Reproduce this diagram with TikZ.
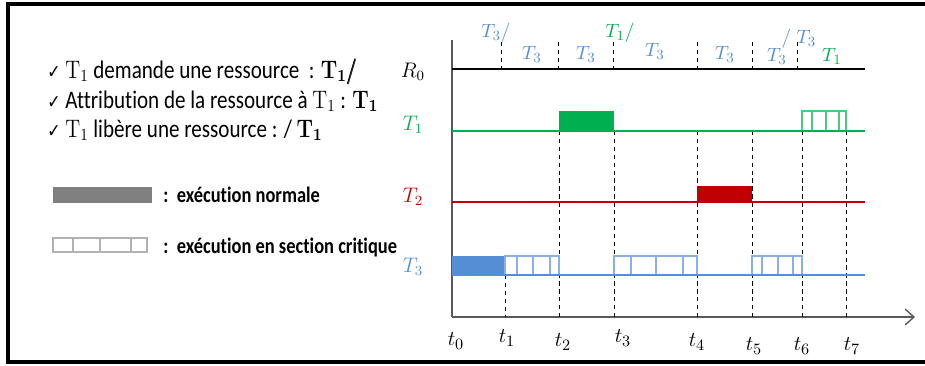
\documentclass[tikz,border=0pt]{standalone}
\usepackage{amsmath,amssymb}
\usepackage[no-math]{fontspec}
\setmainfont{Carlito}[Ligatures=NoCommon]
\newfontfamily\symfont{DejaVu Sans}
\usepackage{graphicx}
\usetikzlibrary{arrows.meta}

\definecolor{tgreen}{HTML}{00B050}
\definecolor{tred}{HTML}{C00000}
\definecolor{tblue}{HTML}{558ED5}
\definecolor{axisgray}{HTML}{595959}
\newcommand{\tallbox}[1]{\scalebox{1}[1.2]{#1}}

\begin{document}
\begin{tikzpicture}[x=0.02cm,y=-0.02cm,
  rowline/.style={line width=1.7pt,draw=#1},
  crit/.style={draw=#1,fill=white,line width=0.6pt},
  guide/.style={dash pattern=on 2.5pt off 2pt,line width=0.5pt},
  rowlbl/.style={font=\fontsize{12}{14}\selectfont,text=#1,inner sep=0pt},
  toplbl/.style={font=\fontsize{11}{13}\selectfont,text=#1,inner sep=0pt},
  tlbl/.style={font=\fontsize{12.5}{14}\selectfont,inner sep=0pt},
  legtext/.style={anchor=base west,inner sep=0pt,font=\fontsize{12}{14}\selectfont},
  keytext/.style={anchor=west,inner sep=0pt,font=\bfseries\fontsize{10.5}{12}\selectfont}
]
\useasboundingbox (0,0) rectangle (925,365);

% cadre
\draw[line width=2pt] (925,4) -- (8,4) -- (8,362) -- (925,362);

% legende
\node[legtext] (leg1) at (47,78)  {\tallbox{{\symfont\small ✓} $\mathrm{T}_1$ demande une ressource\ \ : $\mathbf{T_1}\pmb{/}$}};
\node[legtext] (leg2) at (47,108) {\tallbox{{\symfont\small ✓} Attribution de la ressource à $\mathrm{T}_1$ : $\mathbf{T_1}$}};
\node[legtext] (leg3) at (47,137) {\tallbox{{\symfont\small ✓} $\mathrm{T}_1$ libère une ressource : / $\mathbf{T_1}$}};

\fill[gray] (53,187) rectangle (152,203);
\node[keytext] (knorm) at (163,195) {\tallbox{:\ \ exécution normale}};
\draw[gray!60,line width=0.6pt] (53,238) rectangle (147,252);
\foreach \x in {73,100,131} \draw[gray!60,line width=0.6pt] (\x,238) -- (\x,252);
\node[keytext] (kcrit) at (163,247) {\tallbox{:\ \ exécution en section critique}};

% axes
\coordinate (o) at (452,317);
\draw[axisgray,line width=0.8pt] (452,40) -- (o);
\draw[axisgray,line width=0.8pt,-{Straight Barb[length=5pt,width=9pt]}] (o) -- (915,317);

% lignes pointillees
\foreach \x in {501,558,613,697,752,797} \draw[guide] (\x,42) -- (\x,69);
\draw[guide] (505,275) -- (505,317);
\foreach \x in {559,614,697,752,802,846} \draw[guide] (\x,131) -- (\x,317);

% T1
\fill[tgreen] (559,111) rectangle (614,131);
\draw[crit=tgreen!70] (802,111) rectangle (846,131);
\foreach \x in {812,826,839} \draw[tgreen!70,line width=0.6pt] (\x,111) -- (\x,131);
% T2
\fill[tred] (697,186) rectangle (752,202);
% T3
\fill[tblue] (452,256) rectangle (505,275);
\draw[crit=tblue!70] (505,256) rectangle (559,275);
\foreach \x in {517,533,550} \draw[tblue!70,line width=0.6pt] (\x,256) -- (\x,275);
\draw[crit=tblue!70] (614,256) rectangle (697,275);
\foreach \x in {631,656,683} \draw[tblue!70,line width=0.6pt] (\x,256) -- (\x,275);
\draw[crit=tblue!70] (752,256) rectangle (802,275);
\foreach \x in {762,778,793} \draw[tblue!70,line width=0.6pt] (\x,256) -- (\x,275);

% lignes des taches
\draw[rowline=black] (452,69) -- (865,69);
\draw[rowline=tgreen] (452,131) -- (865,131);
\draw[rowline=tred] (452,202) -- (865,202);
\draw[rowline=tblue] (452,275) -- (865,275);

% noms des lignes
\node[rowlbl=black]  (r0) at (413,72)  {$R_0$};
\node[rowlbl=tgreen] (n1) at (413,125) {$T_1$};
\node[rowlbl=tred]   (n2) at (413,197) {$T_2$};
\node[rowlbl=tblue]  (n3) at (413,267) {$T_3$};

% ressource R0
\node[toplbl=tblue]  (a1) at (496,33) {$T_3/$};
\node[toplbl=tblue]  (a2) at (532,54) {$T_3$};
\node[toplbl=tblue]  (a3) at (586,54) {$T_3$};
\node[toplbl=tgreen] (a4) at (620,33) {$T_1/$};
\node[toplbl=tblue]  (a5) at (655,51) {$T_3$};
\node[toplbl=tblue]  (a6) at (725,54) {$T_3$};
\node[toplbl=tblue]  (a7) at (777,56) {$T_3$};
\node[toplbl=tblue]  (a8) at (799,39) {$/\;T_3$};
\node[toplbl=tgreen] (a9) at (832,56) {$T_1$};

% temps
\foreach \x/\y/\i in {456/341/0,507/338/1,563/342/2,623/338/3,697/342/4,754/346/5,802/346/6,852/346/7}
  \node[tlbl] (t\i) at (\x,\y) {$t_{\i}$};
\end{tikzpicture}
\end{document}
